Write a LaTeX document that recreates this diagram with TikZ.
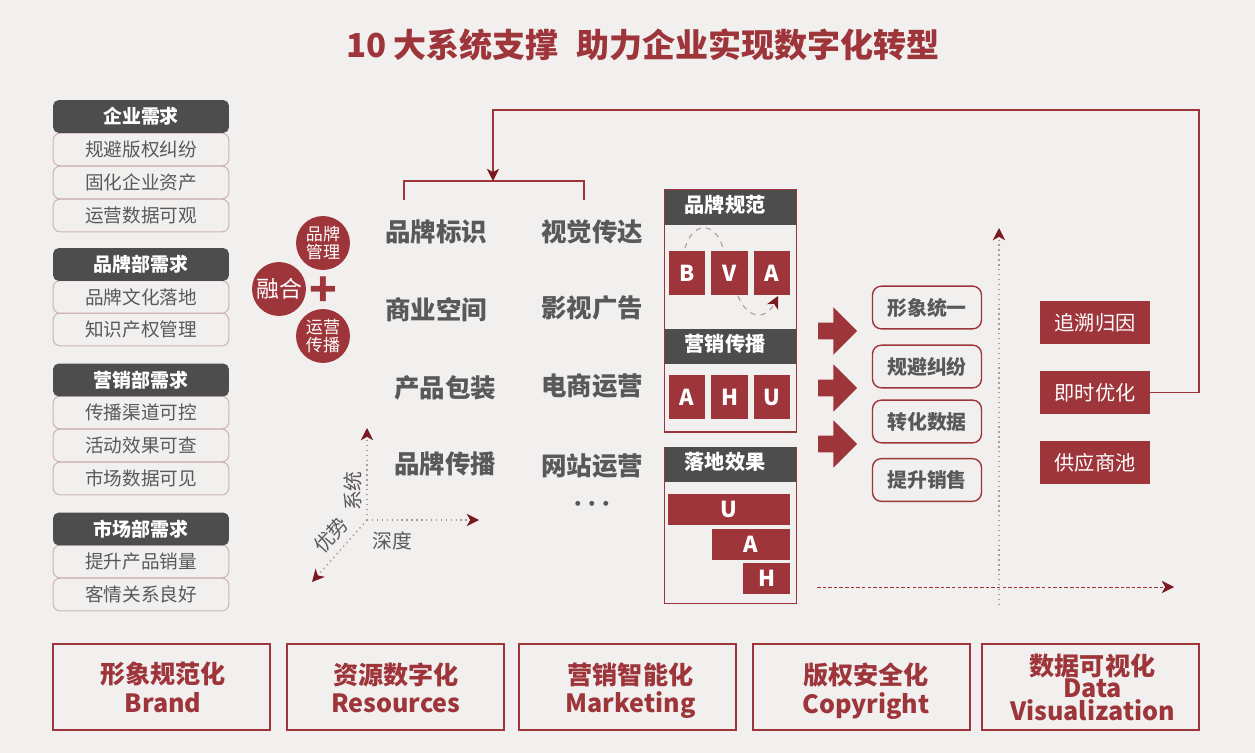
\documentclass[tikz,border=0pt]{standalone}
\usepackage{fontspec}
\setmainfont{Noto Sans CJK SC}
\usetikzlibrary{arrows.meta,shapes.arrows}
\definecolor{bgcol}{HTML}{F2F0EF}
\definecolor{redcol}{HTML}{9E353A}
\definecolor{darkcol}{HTML}{4D4D4D}
\definecolor{textcol}{HTML}{595959}
\definecolor{pinkcol}{HTML}{CDB4B5}
\definecolor{tipcol}{HTML}{7A1A20}
\definecolor{dotcol}{HTML}{A99B9C}
\tikzset{
    tiparrow/.style={-{Stealth[length=7pt,width=7pt,inset=2pt,color=tipcol,fill=tipcol]}},
    reqhead/.style={draw=none, fill=darkcol, text=white, rounded corners=3pt, minimum width=100pt, minimum height=18.6pt, font=\fontsize{10.8pt}{12pt}\selectfont\bfseries},
    reqitem/.style={draw=pinkcol, line width=.6pt, text=textcol, rounded corners=4pt, minimum width=100pt, minimum height=18.6pt, font=\fontsize{10.6pt}{12pt}\selectfont},
    redcircle/.style={circle, fill=redcol, draw=none, text=white, minimum size=30.7pt, align=center, font=\fontsize{9.7pt}{10.2pt}\selectfont},
    midlabel/.style={text=textcol, font=\fontsize{14.5pt}{16pt}\selectfont\bfseries},
    panelbox/.style={draw=redcol, line width=.8pt, minimum width=75pt},
    panelhead/.style={fill=darkcol, text=white, minimum width=75pt, minimum height=20pt, text depth=4.5pt, execute at begin node={\hspace*{-6.2pt}}, font=\fontsize{11.5pt}{13pt}\selectfont\bfseries},
    letterbox/.style={fill=redcol, text=white, minimum width=20.8pt, minimum height=25pt, font=\fontsize{12.5pt}{14pt}\selectfont\bfseries},
    barbox/.style={fill=redcol, text=white, minimum height=17.8pt, font=\fontsize{12.5pt}{14pt}\selectfont\bfseries},
    blockarrow/.style={single arrow, fill=redcol, minimum height=22.2pt, minimum width=26.7pt, single arrow head extend=8.8pt, single arrow head indent=0pt, inner sep=0pt},
    goalbox/.style={draw=redcol, line width=.8pt, rounded corners=5pt, text=textcol, minimum width=62pt, minimum height=24.3pt, font=\fontsize{11.3pt}{13pt}\selectfont\bfseries},
    toolbox/.style={fill=redcol, text=white, minimum width=62.6pt, minimum height=24.5pt, font=\fontsize{11.5pt}{13pt}\selectfont},
    axislabel/.style={text=textcol, font=\fontsize{11.3pt}{13pt}\selectfont},
    bottombox/.style={draw=redcol, line width=.9pt, minimum width=123.5pt, minimum height=49pt},
    bottomtext/.style={text=redcol, align=center, font=\fontsize{14.3pt}{16.5pt}\selectfont\bfseries}
}
\begin{document}
\begin{tikzpicture}[x=0.02cm, y=-0.02cm, every node/.style={inner sep=0pt, outer sep=0pt}]
    \path[use as bounding box, fill=bgcol] (0,0) rectangle (1255,753);

    % Title
    \node[text=redcol, font=\fontsize{18.8pt}{22pt}\selectfont\bfseries] (title) at (643,45) {10 大系统支撑\hspace{10pt}助力企业实现数字化转型};

    % Requirement lists
    \node[reqitem] (q11) at (141,149.5) {规避版权纠纷};
    \node[reqitem] (q12) at (141,182.5) {固化企业资产};
    \node[reqitem] (q13) at (141,215.5) {运营数据可观};
    \node[reqhead] (q1) at (141,116.5) {企业需求};

    \node[reqitem] (q21) at (141,297) {品牌文化落地};
    \node[reqitem] (q22) at (141,329.5) {知识产权管理};
    \node[reqhead] (q2) at (141,264.5) {品牌部需求};

    \node[reqitem] (q31) at (141,412.5) {传播渠道可控};
    \node[reqitem] (q32) at (141,445.5) {活动效果可查};
    \node[reqitem] (q33) at (141,478.5) {市场数据可见};
    \node[reqhead] (q3) at (141,380) {营销部需求};

    \node[reqitem] (q41) at (141,561.5) {提升产品销量};
    \node[reqitem] (q42) at (141,594.5) {客情关系良好};
    \node[reqhead] (q4) at (141,529) {市场部需求};

    % Circles
    \node[redcircle, font=\fontsize{13pt}{14pt}\selectfont] (fuse) at (279,289) {融合};
    \node[redcircle] (brandmgr) at (323,243) {品牌\\管理};
    \node[redcircle] (opsmgr) at (323,336) {运营\\传播};
    \node[text=redcol, font=\fontsize{26pt}{28pt}\selectfont\bfseries] (plus) at (323,292) {+};

    % Service labels
    \node[midlabel] (m11) at (436,232) {品牌标识};
    \node[midlabel] (m12) at (592,232) {视觉传达};
    \node[midlabel] (m21) at (436,310) {商业空间};
    \node[midlabel] (m22) at (592,308) {影视广告};
    \node[midlabel] (m31) at (445,388) {产品包装};
    \node[midlabel] (m32) at (592,386) {电商运营};
    \node[midlabel] (m41) at (445,464) {品牌传播};
    \node[midlabel] (m42) at (592,466) {网站运营};
    \node[midlabel, font=\fontsize{10pt}{12pt}\selectfont\bfseries] (m5) at (592,506) {·\hspace*{-4.3pt} ·\hspace*{-4.3pt} ·};

    % Bracket
    \coordinate (brl) at (404,200);
    \coordinate (brr) at (584,200);
    \coordinate (brm) at (493,181);
    \draw[redcol, line width=.8pt] (brl) |- (brr |- brm) -- (brr);

    % Panel 1 and 2
    \node[panelbox, minimum height=137.7pt] (panela) at (730.5,311) {};
    \node[panelhead] (heada) at (730.5,207.5) {品牌规范};
    \node[letterbox] (nb) at (687,273) {B};
    \node[letterbox] (nv) at (729.5,273) {V};
    \node[letterbox] (na) at (772,273) {A};
    \coordinate (arca) at (685,248);
    \coordinate (arcb) at (723,248);
    \coordinate (arcc) at (738,296);
    \coordinate (arcd) at (778,296);
    \draw[dotcol, dashed, line width=.6pt] (arca) .. controls +(8,-27) and +(-8,-27) .. (arcb);
    \draw[dotcol, dashed, line width=.6pt, tiparrow] (arcc) .. controls +(10,24) and +(-12,24) .. (arcd);
    \node[panelhead] (headb) at (730.5,346.5) {营销传播};
    \node[letterbox] (na2) at (687,397) {A};
    \node[letterbox] (nh2) at (729.5,397) {H};
    \node[letterbox] (nu2) at (772,397) {U};

    % Panel 3
    \node[panelbox, minimum height=89pt] (panelc) at (730.5,525.5) {};
    \node[panelhead] (headc) at (730.5,464.5) {落地效果};
    \node[barbox, minimum width=69pt] (bu) at (729,509.5) {U};
    \node[barbox, minimum width=44.5pt] (ba) at (751,544.5) {A};
    \node[barbox, minimum width=26.7pt] (bh) at (766.5,578.5) {H};

    % Block arrows
    \node[blockarrow] (ar1) at (833.5,331) {\rule{0pt}{9.1pt}};
    \node[blockarrow] (ar2) at (833.5,388) {\rule{0pt}{9.1pt}};
    \node[blockarrow] (ar3) at (833.5,444) {\rule{0pt}{9.1pt}};

    % Goals
    \node[goalbox] (g1) at (927,307.5) {形象统一};
    \node[goalbox] (g2) at (927,366.5) {规避纠纷};
    \node[goalbox] (g3) at (927,421.5) {转化数据};
    \node[goalbox] (g4) at (927,480) {提升销售};

    % Tools
    \node[toolbox] (t1) at (1095,322.5) {追溯归因};
    \node[toolbox] (t2) at (1095,392.5) {即时优化};
    \node[toolbox] (t3) at (1095,462.5) {供应商池};

    % Feedback line
    \coordinate (fb1) at (1199,110);
    \coordinate (fb2) at (493,110);
    \draw[redcol, line width=.8pt, tiparrow] (t2.east) -| (fb1) -- (fb2) -- (brm);

    % Right axes
    \coordinate (va) at (999,605);
    \coordinate (vb) at (999,228);
    \coordinate (ha) at (817,587);
    \coordinate (hb) at (1174,587);
    \draw[dotcol, dotted, line width=.8pt, tiparrow] (va) -- (vb);
    \draw[redcol, dashed, line width=.4pt, dash pattern=on 2pt off 1.2pt, tiparrow] (ha) -- (hb);

    % Left axes
    \coordinate (o) at (367,520);
    \coordinate (ou) at (367,428);
    \coordinate (or) at (479,520);
    \coordinate (od) at (312,582);
    \draw[dotcol, dotted, line width=.8pt, tiparrow] (o) -- (ou);
    \draw[dotcol, dotted, line width=.8pt, tiparrow] (o) -- (or);
    \draw[dotcol, dotted, line width=.8pt, tiparrow] (o) -- (od);
    \node[axislabel, rotate=90] (xsys) at (353,491) {系统};
    \node[axislabel, rotate=48] (xadv) at (331,535) {优势};
    \node[axislabel] (xdep) at (392,541) {深度};

    % Bottom boxes
    \node[bottombox] (b1) at (161.5,687) {};
    \node[bottombox] (b2) at (395.5,687) {};
    \node[bottombox] (b3) at (627.5,687) {};
    \node[bottombox] (b4) at (861.5,687) {};
    \node[bottombox] (b5) at (1090.5,687) {};
    \node[bottomtext] (b1t) at (163,692) {形象规范化\\Brand\strut};
    \node[bottomtext] (b2t) at (396,692) {资源数字化\\Resources\strut};
    \node[bottomtext] (b3t) at (630.5,692) {营销智能化\\Marketing\strut};
    \node[bottomtext] (b4t) at (866,692) {版权安全化\\Copyright\strut};
    \node[bottomtext, font=\fontsize{14.3pt}{12.8pt}\selectfont\bfseries] (b5t) at (1092.5,687) {数据可视化\\Data\\Visualization};
\end{tikzpicture}
\end{document}
